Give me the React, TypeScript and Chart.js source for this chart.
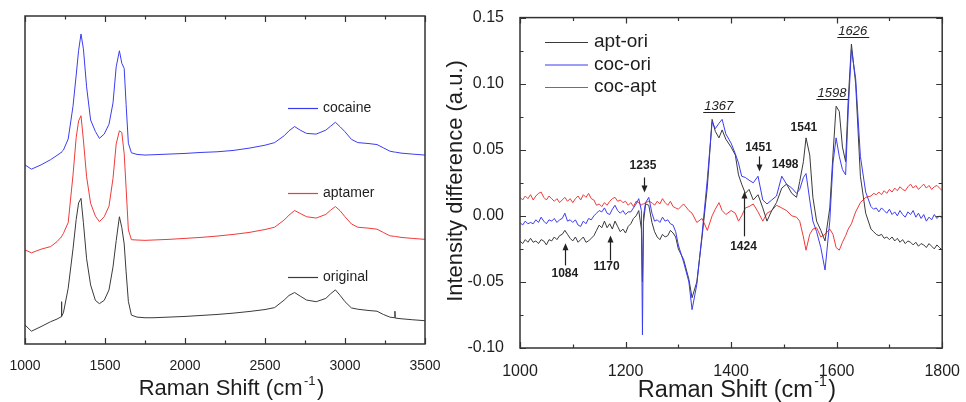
import React, { useEffect, useRef } from 'react';
import { Chart, registerables } from 'chart.js';

Chart.register(...registerables);

const FONT = "'Liberation Sans', Arial, Helvetica, sans-serif";
const BLUE = '#3c3cf2';
const RED = '#f03a3a';
const BLACK = '#3a3a3a';
const FRAME = '#333333';
const TEXT = '#1e1e1e';

// ---------- Left panel: Raman spectra (offset, arbitrary units) ----------
const RAMAN_X = [1000, 1040, 1100, 1160, 1200, 1226, 1228, 1230, 1240, 1270, 1300, 1320, 1335, 1350, 1365, 1385, 1410, 1440, 1465, 1495, 1525, 1550, 1570, 1590, 1605, 1620, 1632, 1646, 1665, 1700, 1750, 1800, 1900, 2000, 2100, 2200, 2300, 2400, 2500, 2560, 2620, 2650, 2685, 2720, 2760, 2820, 2880, 2910, 2940, 2970, 3000, 3040, 3080, 3150, 3200, 3240, 3280, 3310, 3312, 3314, 3350, 3420, 3500];
const COCAINE = [54.6, 53.3, 54.6, 56.2, 57.5, 58.4, 58.5, 58.6, 59.1, 62.5, 72.5, 82.0, 89.5, 94.5, 90.0, 78.4, 68.3, 64.8, 62.7, 64.0, 67.0, 73.5, 84.5, 89.4, 85.6, 84.0, 73.0, 61.2, 58.3, 57.8, 57.6, 57.7, 57.9, 58.1, 58.4, 58.6, 59.0, 59.7, 60.6, 61.4, 63.5, 65.0, 66.3, 65.2, 64.2, 64.0, 65.2, 66.4, 67.6, 66.2, 64.7, 62.4, 61.4, 61.1, 60.8, 59.8, 58.8, 58.5, 58.5, 58.5, 58.2, 57.9, 57.6];
const APTAMER = [28.7, 27.8, 28.9, 29.7, 31.2, 32.6, 32.7, 32.8, 33.7, 37.0, 51.5, 63.0, 68.0, 69.6, 62.2, 51.0, 42.9, 39.0, 37.3, 38.8, 42.0, 50.5, 61.0, 65.0, 64.5, 58.0, 47.5, 34.8, 31.8, 31.7, 31.6, 31.7, 31.9, 32.2, 32.5, 32.9, 33.4, 34.0, 34.9, 35.6, 37.8, 39.3, 40.7, 39.8, 38.8, 38.4, 39.5, 40.8, 41.9, 40.6, 38.8, 36.6, 35.6, 35.3, 35.0, 34.0, 33.0, 32.8, 32.8, 32.8, 32.5, 32.2, 31.9];
const ORIGINAL = [5.8, 3.9, 5.3, 6.8, 7.6, 8.3, 12.9, 8.5, 9.5, 17.0, 29.0, 38.0, 43.0, 44.4, 37.0, 26.0, 18.0, 13.3, 12.3, 13.3, 16.5, 23.5, 31.5, 38.8, 35.5, 30.5, 22.0, 13.0, 8.8, 8.2, 8.0, 8.0, 8.2, 8.4, 8.7, 9.0, 9.4, 9.9, 10.5, 11.1, 13.4, 14.8, 15.7, 14.6, 13.4, 12.9, 13.9, 15.3, 16.5, 14.8, 12.9, 11.0, 10.6, 10.2, 10.0, 9.0, 8.2, 8.0, 10.0, 7.9, 7.7, 7.4, 7.1];
const LEFT_NAMES = ['cocaine', 'aptamer', 'original'];
const LEFT_X_TICKS = [1000, 1500, 2000, 2500, 3000, 3500];

// ---------- Right panel: intensity differences ----------
const DIFF_X = [
  1000, 1005, 1010, 1015, 1020, 1025, 1030, 1035, 1040, 1045, 1050, 1055, 1060, 1065, 1070, 1075, 1080, 1085, 1090, 1095, 1100, 1105, 1110, 1115, 1120, 1125, 1130, 1135, 1140, 1145, 1150, 1155, 1160, 1165, 1170, 1175, 1180, 1185, 1190, 1195, 1200, 1205, 1210, 1215, 1220, 1225,
  1230, 1232, 1234, 1238, 1244,
  1250, 1255, 1260, 1265, 1270, 1275, 1280, 1285, 1290, 1295,
  1300, 1310, 1320, 1326, 1335, 1345, 1355, 1364, 1370, 1377, 1383, 1390, 1400, 1408, 1414, 1420, 1427, 1434, 1442, 1451, 1460, 1468, 1477, 1486, 1496, 1505, 1515, 1524, 1530, 1537, 1542, 1549, 1555, 1562, 1570, 1578, 1587, 1593, 1599, 1605, 1611, 1617, 1622, 1628, 1636, 1645, 1655,
  1665, 1670, 1675, 1680, 1685, 1690, 1695, 1700, 1705, 1710, 1715, 1720, 1725, 1730, 1735, 1740, 1745, 1750, 1755, 1760, 1765, 1770, 1775, 1780, 1785, 1790, 1795, 1800,
];
const APT_ORI = [
  -0.019, -0.021, -0.018, -0.020, -0.017, -0.020, -0.019, -0.021, -0.018, -0.019, -0.022, -0.018, -0.019, -0.016, -0.018, -0.015, -0.014, -0.011, -0.014, -0.017, -0.019, -0.016, -0.020, -0.018, -0.016, -0.020, -0.019, -0.017, -0.015, -0.011, -0.007, -0.009, -0.004, -0.009, -0.006, -0.010, -0.004, -0.008, -0.012, -0.010, -0.013, -0.008, -0.006, -0.002, 0.000, 0.004,
  -0.010, -0.050, -0.005, 0.009, 0.008,
  -0.005, -0.012, -0.016, -0.018, -0.014, -0.016, -0.015, -0.011, -0.013, -0.016,
  -0.025, -0.033, -0.048, -0.062, -0.050, -0.016, 0.022, 0.073, 0.064, 0.059, 0.065, 0.058, 0.052, 0.046, 0.031, 0.024, 0.017, 0.020, 0.012, 0.016, 0.006, -0.004, 0.004, 0.010, 0.021, 0.024, 0.017, 0.014, 0.026, 0.041, 0.059, 0.046, 0.014, -0.004, -0.011, -0.019, 0.006, 0.046, 0.083, 0.079, 0.052, 0.041, 0.088, 0.130, 0.100, 0.030, 0.002,
  -0.010, -0.012, -0.014, -0.015, -0.014, -0.017, -0.016, -0.018, -0.016, -0.019, -0.017, -0.020, -0.018, -0.021, -0.019, -0.020, -0.022, -0.020, -0.023, -0.021, -0.022, -0.024, -0.021, -0.023, -0.025, -0.022, -0.024, -0.026,
];
const COC_ORI = [
  -0.005, -0.007, -0.004, -0.006, -0.005, -0.006, -0.003, -0.005, -0.001, -0.004, -0.006, -0.003, -0.004, -0.002, -0.005, -0.003, -0.002, 0.002, -0.004, -0.003, -0.005, -0.003, -0.007, -0.008, -0.004, -0.006, -0.002, -0.003, 0.000, 0.002, 0.004, 0.003, 0.006, 0.002, 0.001, 0.005, 0.008, 0.004, 0.002, 0.004, 0.001, 0.003, 0.003, 0.006, 0.009, 0.013,
  0.004, -0.090, 0.000, 0.010, 0.014,
  0.002, -0.004, -0.003, -0.005, -0.001, -0.004, -0.003, -0.006, -0.007, -0.012,
  -0.022, -0.035, -0.050, -0.071, -0.052, -0.014, 0.028, 0.071, 0.066, 0.070, 0.073, 0.062, 0.055, 0.047, 0.040, 0.030, 0.029, 0.027, 0.025, 0.030, 0.012, 0.009, 0.012, 0.015, 0.030, 0.024, 0.021, 0.017, 0.020, 0.029, 0.032, 0.012, -0.004, -0.012, -0.024, -0.041, -0.004, 0.040, 0.059, 0.045, 0.035, 0.031, 0.080, 0.126, 0.104, 0.045, 0.018,
  0.007, 0.005, 0.006, 0.003, 0.006, 0.004, 0.002, 0.005, 0.001, 0.003, 0.000, 0.004, 0.001, -0.001, 0.003, 0.001, 0.004, -0.001, 0.002, -0.002, 0.001, -0.004, -0.001, -0.003, 0.001, -0.002, 0.000, -0.002,
];
const COC_APT = [
  0.014, 0.012, 0.015, 0.013, 0.016, 0.012, 0.015, 0.017, 0.018, 0.014, 0.012, 0.015, 0.013, 0.011, 0.013, 0.010, 0.012, 0.014, 0.011, 0.013, 0.010, 0.013, 0.015, 0.012, 0.016, 0.014, 0.017, 0.013, 0.012, 0.008, 0.009, 0.007, 0.010, 0.008, 0.011, 0.013, 0.014, 0.011, 0.012, 0.010, 0.011, 0.008, 0.010, 0.007, 0.011, 0.010,
  0.008, 0.009, 0.009, 0.010, 0.011,
  0.010, 0.008, 0.011, 0.009, 0.013, 0.010, 0.008, 0.011, 0.007, 0.006,
  0.005, 0.009, 0.004, 0.002, -0.005, -0.002, -0.011, 0.000, 0.005, 0.010, 0.004, 0.001, 0.004, 0.002, -0.004, 0.000, 0.006, 0.007, 0.009, 0.003, -0.004, 0.002, 0.004, 0.008, 0.006, 0.004, 0.000, -0.001, -0.004, -0.016, -0.026, -0.014, -0.010, -0.009, -0.016, -0.014, -0.010, -0.014, -0.024, -0.026, -0.020, -0.015, -0.010, -0.006, 0.003, 0.010, 0.014,
  0.015, 0.017, 0.016, 0.018, 0.016, 0.019, 0.017, 0.020, 0.018, 0.021, 0.019, 0.022, 0.020, 0.019, 0.022, 0.024, 0.021, 0.023, 0.020, 0.022, 0.024, 0.021, 0.023, 0.020, 0.022, 0.023, 0.021, 0.019,
];
const RIGHT_NAMES = ['apt-ori', 'coc-ori', 'coc-apt'];
const RIGHT_X_TICKS = [1000, 1200, 1400, 1600, 1800];
const RIGHT_Y_TICKS = [-0.10, -0.05, 0.0, 0.05, 0.10, 0.15];

// Peak annotations (data coordinates)
const PEAK_TEXT = ['1084', '1170', '1235', '1424', '1451', '1498', '1541'];
const PEAK_TEXT_X = [1085, 1164, 1233, 1423.5, 1452, 1502.5, 1538];
const PEAK_TEXT_Y = [-0.0438, -0.0388, 0.0378, -0.0233, 0.0515, 0.0388, 0.067];
const ARROW_X = [1085, 1171, 1235.5, 1424, 1452];
const ARROW_FROM = [-0.0375, -0.0337, 0.029, -0.0155, 0.045];
const ARROW_TO = [-0.0207, -0.0149, 0.0177, 0.0185, 0.0335];
const BAND_TEXT = ['1367', '1598', '1626'];
const BAND_X = [1376.5, 1591, 1630.6];
const BAND_Y = [0.083, 0.093, 0.1395];

const midpoints = (arr: number[]) => arr.slice(1).map((v, i) => (v + arr[i]) / 2);

function drawRamanTitle(ctx: CanvasRenderingContext2D, cx: number, baseline: number, size: number) {
  const main = 'Raman Shift (cm';
  const sup = '-1';
  const close = ')';
  ctx.save();
  ctx.fillStyle = TEXT;
  ctx.textBaseline = 'alphabetic';
  ctx.textAlign = 'left';
  ctx.font = `${size}px ${FONT}`;
  const w1 = ctx.measureText(main).width;
  const w3 = ctx.measureText(close).width;
  const supSize = Math.round(size * 0.58);
  ctx.font = `${supSize}px ${FONT}`;
  const w2 = ctx.measureText(sup).width;
  const total = w1 + w2 + w3 + 3;
  const x0 = cx - total / 2;
  ctx.font = `${size}px ${FONT}`;
  ctx.fillText(main, x0, baseline);
  ctx.fillText(close, x0 + w1 + w2 + 3, baseline);
  ctx.font = `${supSize}px ${FONT}`;
  ctx.fillText(sup, x0 + w1 + 1.5, baseline - size * 0.45);
  ctx.restore();
}

function drawFrame(chart: any, xMajor: number[], yMajor: number[] | null) {
  const { ctx, chartArea: a, scales } = chart;
  ctx.save();
  ctx.strokeStyle = FRAME;
  ctx.lineWidth = 1.5;
  ctx.strokeRect(a.left, a.top, a.right - a.left, a.bottom - a.top);
  ctx.lineWidth = 1.2;
  const tick = (vals: number[], len: number) => {
    vals.forEach((v) => {
      const px = Math.round(scales.x.getPixelForValue(v)) + 0.5;
      ctx.beginPath();
      ctx.moveTo(px, a.bottom);
      ctx.lineTo(px, a.bottom - len);
      ctx.moveTo(px, a.top);
      ctx.lineTo(px, a.top + len);
      ctx.stroke();
    });
  };
  tick(xMajor, 6);
  tick(midpoints(xMajor), 3.5);
  if (yMajor) {
    const ytick = (vals: number[], len: number) => {
      vals.forEach((v) => {
        const py = Math.round(scales.y.getPixelForValue(v)) + 0.5;
        ctx.beginPath();
        ctx.moveTo(a.left, py);
        ctx.lineTo(a.left + len, py);
        ctx.moveTo(a.right, py);
        ctx.lineTo(a.right - len, py);
        ctx.stroke();
      });
    };
    ytick(yMajor, 6);
    ytick(midpoints(yMajor), 3.5);
  }
  ctx.restore();
}

function drawLegend(ctx: CanvasRenderingContext2D, names: string[], colors: string[], x0: number, x1: number, tx: number, ys: number[], size: number) {
  ctx.save();
  ctx.font = `${size}px ${FONT}`;
  ctx.textBaseline = 'middle';
  ctx.textAlign = 'left';
  names.forEach((n, i) => {
    ctx.strokeStyle = colors[i];
    ctx.lineWidth = 1.2;
    ctx.beginPath();
    ctx.moveTo(x0, ys[i] + 0.5);
    ctx.lineTo(x1, ys[i] + 0.5);
    ctx.stroke();
    ctx.fillStyle = TEXT;
    ctx.fillText(n, tx, ys[i]);
  });
  ctx.restore();
}

const leftDecor = {
  id: 'leftDecor',
  afterDatasetsDraw(chart: any) {
    const ctx = chart.ctx as CanvasRenderingContext2D;
    drawFrame(chart, LEFT_X_TICKS, null);
    drawLegend(ctx, LEFT_NAMES, [BLUE, RED, BLACK], 288, 318, 323, [108, 193, 277], 14);
    drawRamanTitle(ctx, 231.5, 395, 22);
  },
};

const rightDecor = {
  id: 'rightDecor',
  afterDatasetsDraw(chart: any) {
    const ctx = chart.ctx as CanvasRenderingContext2D;
    const { scales } = chart;
    drawFrame(chart, RIGHT_X_TICKS, RIGHT_Y_TICKS);
    // peak labels
    ctx.save();
    ctx.fillStyle = TEXT;
    ctx.textAlign = 'center';
    ctx.textBaseline = 'middle';
    ctx.font = `bold 12px ${FONT}`;
    PEAK_TEXT.forEach((t, i) => {
      ctx.fillText(t, scales.x.getPixelForValue(PEAK_TEXT_X[i]), scales.y.getPixelForValue(PEAK_TEXT_Y[i]));
    });
    // arrows
    ctx.strokeStyle = '#222';
    ctx.lineWidth = 1.2;
    ARROW_X.forEach((xv, i) => {
      const x = Math.round(scales.x.getPixelForValue(xv)) + 0.5;
      const y0 = scales.y.getPixelForValue(ARROW_FROM[i]);
      const y1 = scales.y.getPixelForValue(ARROW_TO[i]);
      const dir = y1 > y0 ? 1 : -1;
      ctx.beginPath();
      ctx.moveTo(x, y0);
      ctx.lineTo(x, y1 - dir * 5);
      ctx.stroke();
      ctx.beginPath();
      ctx.moveTo(x, y1);
      ctx.lineTo(x - 3, y1 - dir * 7);
      ctx.lineTo(x + 3, y1 - dir * 7);
      ctx.closePath();
      ctx.fillStyle = '#222';
      ctx.fill();
    });
    // underlined italic band labels
    ctx.font = `italic 13px ${FONT}`;
    ctx.fillStyle = TEXT;
    ctx.lineWidth = 1;
    BAND_TEXT.forEach((t, i) => {
      const x = scales.x.getPixelForValue(BAND_X[i]);
      const y = scales.y.getPixelForValue(BAND_Y[i]);
      ctx.fillText(t, x, y);
      const w = ctx.measureText(t).width;
      ctx.beginPath();
      ctx.moveTo(x - w / 2 - 1, Math.round(y + 6) + 0.5);
      ctx.lineTo(x + w / 2 + 2, Math.round(y + 6) + 0.5);
      ctx.stroke();
    });
    ctx.restore();
    drawLegend(ctx, RIGHT_NAMES, [BLACK, BLUE, RED], 115, 158, 164, [42, 64.5, 87], 19);
    drawRamanTitle(ctx, 307, 396.5, 23.5);
    // y title
    ctx.save();
    ctx.translate(26, 181);
    ctx.rotate(-Math.PI / 2);
    ctx.font = `22px ${FONT}`;
    ctx.fillStyle = TEXT;
    ctx.textAlign = 'center';
    ctx.textBaseline = 'middle';
    ctx.fillText('Intensity difference (a.u.)', 0, 0);
    ctx.restore();
  },
};

const line = (xs: number[], ys: number[], color: string, label: string) => ({
  label,
  data: xs.map((x, i) => ({ x, y: ys[i] })),
  borderColor: color,
  backgroundColor: color,
  borderWidth: 1,
  pointRadius: 0,
  tension: 0,
  fill: false,
});

export default function App() {
  const leftRef = useRef<HTMLCanvasElement>(null);
  const rightRef = useRef<HTMLCanvasElement>(null);

  useEffect(() => {
    const left = new Chart(leftRef.current as HTMLCanvasElement, {
      type: 'line',
      data: {
        datasets: [
          line(RAMAN_X, COCAINE, BLUE, LEFT_NAMES[0]),
          line(RAMAN_X, APTAMER, RED, LEFT_NAMES[1]),
          line(RAMAN_X, ORIGINAL, BLACK, LEFT_NAMES[2]),
        ],
      },
      options: {
        responsive: false,
        animation: false,
        devicePixelRatio: 1,
        events: [],
        layout: { padding: { left: 25, right: 55, top: 16, bottom: 0 } },
        plugins: { legend: { display: false }, tooltip: { enabled: false } },
        scales: {
          x: {
            type: 'linear',
            min: 1000,
            max: 3500,
            grid: { display: false },
            border: { display: false },
            afterBuildTicks: (s: any) => {
              s.ticks = LEFT_X_TICKS.map((v) => ({ value: v }));
            },
            afterFit: (s: any) => {
              s.height = 58;
            },
            ticks: {
              font: { family: FONT, size: 14 },
              color: TEXT,
              padding: 6,
              maxRotation: 0,
              autoSkip: false,
              callback: (v: any) => String(v),
            },
          },
          y: { type: 'linear', min: 0, max: 100, display: false },
        },
      } as any,
      plugins: [leftDecor],
    });

    const right = new Chart(rightRef.current as HTMLCanvasElement, {
      type: 'line',
      data: {
        datasets: [
          line(DIFF_X, COC_ORI, BLUE, RIGHT_NAMES[1]),
          line(DIFF_X, APT_ORI, BLACK, RIGHT_NAMES[0]),
          line(DIFF_X, COC_APT, RED, RIGHT_NAMES[2]),
        ],
      },
      options: {
        responsive: false,
        animation: false,
        devicePixelRatio: 1,
        events: [],
        layout: { padding: { left: 0, right: 21, top: 16, bottom: 0 } },
        plugins: { legend: { display: false }, tooltip: { enabled: false } },
        scales: {
          x: {
            type: 'linear',
            min: 1000,
            max: 1800,
            grid: { display: false },
            border: { display: false },
            afterBuildTicks: (s: any) => {
              s.ticks = RIGHT_X_TICKS.map((v) => ({ value: v }));
            },
            afterFit: (s: any) => {
              s.height = 54;
            },
            ticks: {
              font: { family: FONT, size: 16 },
              color: TEXT,
              padding: 6,
              maxRotation: 0,
              autoSkip: false,
              callback: (v: any) => String(v),
            },
          },
          y: {
            type: 'linear',
            min: -0.1,
            max: 0.15,
            grid: { display: false },
            border: { display: false },
            afterBuildTicks: (s: any) => {
              s.ticks = RIGHT_Y_TICKS.map((v) => ({ value: v }));
            },
            afterFit: (s: any) => {
              s.width = 90;
            },
            ticks: {
              font: { family: FONT, size: 16 },
              color: TEXT,
              padding: 8,
              autoSkip: false,
              callback: (v: any) => {
                const n = Number(v);
                return Math.abs(n) < 1e-9 ? '0.00' : n.toFixed(2);
              },
            },
          },
        },
      } as any,
      plugins: [rightDecor],
    });

    return () => {
      left.destroy();
      right.destroy();
    };
  }, []);

  return (
    <div style={{ position: 'absolute', left: 0, top: 0, width: 966, height: 402, background: '#ffffff', overflow: 'hidden' }}>
      <canvas ref={leftRef} width={480} height={402} style={{ position: 'absolute', left: 0, top: 0 }} />
      <canvas ref={rightRef} width={536} height={402} style={{ position: 'absolute', left: 430, top: 0 }} />
    </div>
  );
}
